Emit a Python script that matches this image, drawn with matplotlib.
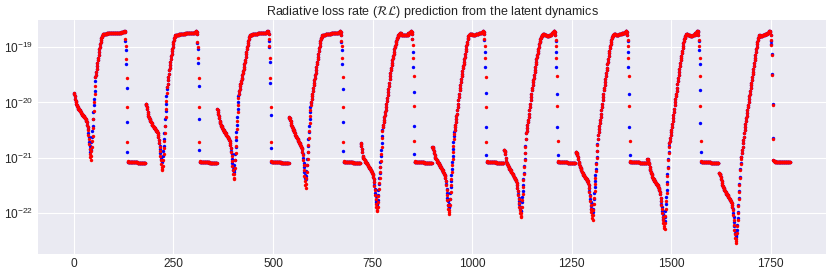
import numpy as np
import matplotlib
matplotlib.use("Agg")
import matplotlib.pyplot as plt

# ---------------------------------------------------------------
# Data: log10 of the radiative loss rate.
# Ten cycles of 180 samples each; every cycle is split into segments.
# ---------------------------------------------------------------
decay = [
    [-19.83,-19.85,-19.88,-19.93,-19.97,-20.00,-20.03,-20.05,-20.07,-20.09,-20.10,-20.11,-20.12,-20.13,-20.14,-20.15,-20.16,-20.18,-20.19,-20.20,-20.21,-20.22,-20.23,-20.24,-20.25,-20.26,-20.27,-20.28,-20.29,-20.30,-20.31,-20.33,-20.36,-20.40,-20.45],
    [-20.02,-20.03,-20.05,-20.08,-20.12,-20.17,-20.21,-20.24,-20.26,-20.28,-20.30,-20.32,-20.34,-20.35,-20.36,-20.38,-20.40,-20.41,-20.42,-20.43,-20.44,-20.45,-20.46,-20.47,-20.48,-20.49,-20.50,-20.51,-20.52,-20.54,-20.56,-20.59,-20.63,-20.68,-20.73],
    [-20.12,-20.14,-20.17,-20.21,-20.25,-20.29,-20.33,-20.36,-20.38,-20.40,-20.42,-20.43,-20.45,-20.46,-20.48,-20.49,-20.50,-20.52,-20.53,-20.54,-20.55,-20.56,-20.58,-20.59,-20.60,-20.61,-20.62,-20.63,-20.65,-20.66,-20.68,-20.70,-20.73,-20.77,-20.82],
    [-20.27,-20.28,-20.29,-20.31,-20.34,-20.37,-20.40,-20.43,-20.45,-20.47,-20.48,-20.49,-20.50,-20.52,-20.54,-20.56,-20.58,-20.60,-20.61,-20.63,-20.64,-20.65,-20.67,-20.68,-20.70,-20.71,-20.73,-20.74,-20.76,-20.77,-20.79,-20.80,-20.82,-20.84,-20.89],
    [-20.74,-20.76,-20.79,-20.84,-20.90,-20.96,-20.99,-21.01,-21.02,-21.03,-21.04,-21.05,-21.07,-21.08,-21.09,-21.10,-21.11,-21.12,-21.14,-21.15,-21.16,-21.17,-21.18,-21.19,-21.21,-21.22,-21.23,-21.24,-21.26,-21.27,-21.29,-21.31,-21.34,-21.38,-21.44],
    [-20.80,-20.81,-20.82,-20.84,-20.87,-20.91,-20.95,-20.98,-21.00,-21.02,-21.03,-21.04,-21.05,-21.07,-21.08,-21.09,-21.10,-21.12,-21.13,-21.14,-21.16,-21.17,-21.18,-21.19,-21.21,-21.22,-21.23,-21.25,-21.26,-21.28,-21.29,-21.31,-21.33,-21.37,-21.43],
    [-20.86,-20.86,-20.87,-20.90,-20.94,-21.00,-21.06,-21.09,-21.11,-21.12,-21.14,-21.15,-21.17,-21.18,-21.20,-21.21,-21.22,-21.23,-21.25,-21.26,-21.27,-21.28,-21.30,-21.31,-21.32,-21.34,-21.35,-21.36,-21.38,-21.39,-21.41,-21.43,-21.45,-21.49,-21.55],
    [-20.90,-20.90,-20.91,-20.92,-20.93,-20.95,-20.99,-21.03,-21.07,-21.10,-21.12,-21.15,-21.17,-21.19,-21.21,-21.23,-21.25,-21.26,-21.28,-21.29,-21.31,-21.32,-21.33,-21.34,-21.35,-21.36,-21.37,-21.38,-21.39,-21.40,-21.42,-21.43,-21.45,-21.49,-21.55],
    [-21.03,-21.03,-21.04,-21.06,-21.09,-21.12,-21.16,-21.20,-21.23,-21.26,-21.28,-21.30,-21.32,-21.34,-21.36,-21.38,-21.39,-21.41,-21.42,-21.43,-21.44,-21.45,-21.46,-21.47,-21.48,-21.49,-21.50,-21.52,-21.53,-21.55,-21.57,-21.59,-21.62,-21.66,-21.72],
    [-21.28,-21.28,-21.29,-21.30,-21.32,-21.35,-21.39,-21.43,-21.46,-21.49,-21.51,-21.53,-21.55,-21.57,-21.58,-21.60,-21.61,-21.62,-21.64,-21.65,-21.66,-21.67,-21.68,-21.70,-21.71,-21.72,-21.73,-21.75,-21.76,-21.77,-21.79,-21.80,-21.82,-21.85,-21.89],
]

dip_red = [
    [-20.50,-20.58,-20.67,-20.76,-20.85,-20.93,-20.99,-21.04,-20.96,-20.88,-20.80,-20.70,-20.60,-20.46,-20.30,-20.15,-19.99,-19.85,-19.70],
    [-20.80,-20.88,-20.96,-21.04,-21.11,-21.17,-21.21,-21.23,-21.15,-21.05,-20.94,-20.82,-20.70,-20.56,-20.42,-20.27,-20.12,-19.97,-19.83],
    [-20.89,-20.97,-21.06,-21.15,-21.23,-21.30,-21.36,-21.39,-21.30,-21.18,-21.05,-20.92,-20.78,-20.63,-20.48,-20.33,-20.18,-20.04,-19.92],
    [-20.95,-21.04,-21.13,-21.23,-21.33,-21.42,-21.50,-21.55,-21.47,-21.37,-21.26,-21.14,-21.02,-20.90,-20.77,-20.64,-20.51,-20.38,-20.25,-20.13,-20.05],
    [-21.51,-21.59,-21.67,-21.75,-21.83,-21.89,-21.94,-21.97,-21.90,-21.80,-21.69,-21.57,-21.46,-21.36,-21.26,-21.16,-21.06,-20.94,-20.80,-20.65,-20.52],
    [-21.50,-21.59,-21.68,-21.77,-21.85,-21.92,-21.98,-22.02,-21.95,-21.85,-21.74,-21.62,-21.50,-21.38,-21.26,-21.14,-21.02,-20.90,-20.78,-20.66,-20.57],
    [-21.61,-21.68,-21.75,-21.82,-21.89,-21.95,-22.00,-22.05,-22.08,-22.00,-21.89,-21.77,-21.65,-21.53,-21.41,-21.29,-21.17,-21.05,-20.92,-20.80,-20.67],
    [-21.62,-21.70,-21.78,-21.85,-21.92,-21.98,-22.04,-22.09,-22.12,-22.04,-21.94,-21.83,-21.72,-21.60,-21.48,-21.36,-21.24,-21.12,-21.00,-20.88,-20.77,-20.67],
    [-21.79,-21.86,-21.93,-22.00,-22.07,-22.13,-22.18,-22.23,-22.27,-22.29,-22.19,-22.06,-21.92,-21.78,-21.63,-21.48,-21.33,-21.18,-21.04,-20.91,-20.80],
    [-21.95,-22.03,-22.12,-22.21,-22.30,-22.38,-22.45,-22.51,-22.55,-22.47,-22.36,-22.24,-22.12,-22.00,-21.88,-21.75,-21.62,-21.49,-21.36,-21.23,-21.11,-21.02],
]

dip_blue = [
    [-20.48,-20.55,-20.63,-20.71,-20.79,-20.85,-20.89,-20.86,-20.80,-20.72,-20.62,-20.52,-20.42,-20.30,-20.18,-20.05,-19.93,-19.80,-19.62],
    [-20.78,-20.85,-20.92,-20.98,-21.03,-21.06,-21.07,-21.04,-20.97,-20.88,-20.78,-20.67,-20.55,-20.43,-20.30,-20.16,-20.02,-19.88,-19.76],
    [-20.87,-20.94,-21.02,-21.10,-21.17,-21.22,-21.25,-21.22,-21.14,-21.04,-20.93,-20.81,-20.68,-20.54,-20.40,-20.26,-20.12,-19.99,-19.88],
    [-20.93,-21.01,-21.09,-21.17,-21.25,-21.32,-21.37,-21.38,-21.33,-21.24,-21.13,-21.02,-20.90,-20.78,-20.66,-20.54,-20.42,-20.30,-20.18,-20.08,-20.01],
    [-21.49,-21.56,-21.63,-21.70,-21.76,-21.81,-21.84,-21.83,-21.77,-21.68,-21.58,-21.47,-21.37,-21.27,-21.17,-21.07,-20.97,-20.86,-20.74,-20.61,-20.50],
    [-21.48,-21.56,-21.64,-21.72,-21.79,-21.85,-21.89,-21.89,-21.83,-21.74,-21.64,-21.53,-21.42,-21.31,-21.20,-21.08,-20.96,-20.84,-20.72,-20.61,-20.54],
    [-21.60,-21.66,-21.72,-21.78,-21.84,-21.89,-21.93,-21.96,-21.96,-21.90,-21.81,-21.71,-21.60,-21.49,-21.38,-21.27,-21.15,-21.03,-20.91,-20.79,-20.66],
    [-21.61,-21.68,-21.75,-21.81,-21.87,-21.92,-21.96,-21.99,-21.99,-21.93,-21.84,-21.74,-21.64,-21.53,-21.42,-21.31,-21.20,-21.09,-20.98,-20.87,-20.76,-20.66],
    [-21.78,-21.84,-21.90,-21.96,-22.02,-22.07,-22.11,-22.14,-22.16,-22.15,-22.07,-21.96,-21.84,-21.71,-21.58,-21.44,-21.30,-21.16,-21.02,-20.89,-20.78],
    [-21.93,-22.00,-22.08,-22.16,-22.24,-22.31,-22.37,-22.42,-22.44,-22.40,-22.31,-22.21,-22.10,-21.98,-21.86,-21.73,-21.60,-21.47,-21.34,-21.21,-21.09,-20.99],
]

heating_line = [
    [-19.54,-19.50,-19.45,-19.40,-19.34,-19.29,-19.24,-19.19,-19.14,-19.09,-19.04,-18.99,-18.95,-18.91,-18.87,-18.84,-18.81,-18.79,-18.77],
    [-19.72,-19.66,-19.60,-19.54,-19.48,-19.42,-19.37,-19.32,-19.26,-19.21,-19.16,-19.12,-19.07,-19.03,-18.99,-18.95,-18.91,-18.87,-18.84,-18.82,-18.80,-18.78],
    [-19.84,-19.80,-19.75,-19.70,-19.67,-19.64,-19.61,-19.58,-19.55,-19.51,-19.47,-19.43,-19.39,-19.35,-19.31,-19.27,-19.23,-19.18,-19.13,-19.08,-19.04,-19.00,-18.96,-18.92,-18.88,-18.85,-18.82,-18.79],
    [-19.99,-19.94,-19.89,-19.84,-19.79,-19.74,-19.69,-19.64,-19.60,-19.55,-19.51,-19.46,-19.41,-19.36,-19.31,-19.27,-19.22,-19.17,-19.12,-19.07,-19.02,-18.97,-18.92,-18.89,-18.86,-18.83,-18.81,-18.79,-18.78],
    [-20.44,-20.40,-20.35,-20.31,-20.26,-20.22,-20.18,-20.13,-20.08,-20.03,-19.97,-19.92,-19.87,-19.81,-19.76,-19.70,-19.64,-19.58,-19.52,-19.47,-19.42,-19.37,-19.32,-19.28,-19.24,-19.20,-19.16,-19.12,-19.08,-19.04,-19.00,-18.97,-18.94,-18.91,-18.88,-18.86,-18.84,-18.82,-18.80,-18.78,-18.77,-18.76,-18.76],
    [-20.50,-20.45,-20.40,-20.35,-20.30,-20.25,-20.20,-20.14,-20.08,-20.02,-19.96,-19.90,-19.84,-19.78,-19.73,-19.68,-19.63,-19.58,-19.53,-19.48,-19.43,-19.38,-19.34,-19.30,-19.26,-19.21,-19.17,-19.12,-19.07,-19.03,-18.98,-18.94,-18.90,-18.86,-18.83,-18.80,-18.78,-18.77,-18.76,-18.76,-18.76],
    [-20.56,-20.51,-20.46,-20.41,-20.36,-20.31,-20.26,-20.20,-20.14,-20.08,-20.02,-19.96,-19.90,-19.84,-19.78,-19.73,-19.68,-19.63,-19.59,-19.55,-19.50,-19.45,-19.41,-19.36,-19.31,-19.27,-19.22,-19.18,-19.14,-19.10,-19.06,-19.03,-18.99,-18.95,-18.91,-18.88,-18.85,-18.83,-18.81,-18.79,-18.78,-18.77,-18.76],
    [-20.59,-20.54,-20.48,-20.42,-20.37,-20.31,-20.26,-20.20,-20.14,-20.08,-20.02,-19.96,-19.90,-19.84,-19.78,-19.73,-19.68,-19.63,-19.58,-19.52,-19.47,-19.42,-19.37,-19.31,-19.26,-19.21,-19.16,-19.11,-19.06,-19.02,-18.98,-18.94,-18.90,-18.87,-18.84,-18.82,-18.80,-18.78,-18.77,-18.76],
    [-20.74,-20.69,-20.64,-20.59,-20.54,-20.49,-20.44,-20.39,-20.34,-20.29,-20.23,-20.17,-20.11,-20.05,-19.99,-19.94,-19.89,-19.84,-19.79,-19.73,-19.67,-19.61,-19.56,-19.51,-19.45,-19.39,-19.34,-19.29,-19.24,-19.19,-19.15,-19.11,-19.06,-19.01,-18.97,-18.93,-18.89,-18.86,-18.83,-18.81,-18.79,-18.77,-18.76],
    [-20.98,-20.92,-20.86,-20.80,-20.74,-20.68,-20.62,-20.56,-20.50,-20.44,-20.39,-20.34,-20.29,-20.24,-20.19,-20.14,-20.09,-20.04,-19.99,-19.94,-19.89,-19.84,-19.79,-19.74,-19.69,-19.64,-19.59,-19.54,-19.49,-19.44,-19.39,-19.34,-19.29,-19.24,-19.19,-19.14,-19.09,-19.04,-18.99,-18.95,-18.91,-18.87,-18.84,-18.81,-18.79],
]

plateau = [
    [-18.76]*10 + [-18.75]*20 + [-18.74]*16 + [-18.73]*5 + [-18.72,-18.72,-18.71,-18.71,-18.73],
    [-18.77]*8 + [-18.76]*16 + [-18.75]*16 + [-18.74]*8 + [-18.72,-18.72,-18.71,-18.71,-18.72,-18.76],
    [-18.77]*6 + [-18.76]*14 + [-18.75]*14 + [-18.74]*8 + [-18.72,-18.72,-18.71,-18.71,-18.72,-18.76],
    [-18.77]*7 + [-18.76]*14 + [-18.75]*12 + [-18.74]*8 + [-18.72,-18.72,-18.71,-18.71,-18.72,-18.77],
    [-18.75]*3 + [-18.77]*5 + [-18.78]*8 + [-18.77]*5 + [-18.75]*4 + [-18.73,-18.72,-18.71,-18.71,-18.72,-18.76],
    [-18.76]*4 + [-18.77]*8 + [-18.76]*8 + [-18.75]*5 + [-18.74]*3 + [-18.72,-18.72,-18.71,-18.71,-18.72,-18.76],
    [-18.76]*3 + [-18.78]*6 + [-18.79]*6 + [-18.77]*6 + [-18.75]*4 + [-18.72,-18.71,-18.70,-18.70,-18.72,-18.78],
    [-18.76]*4 + [-18.77]*8 + [-18.76]*8 + [-18.75]*5 + [-18.74]*3 + [-18.72,-18.71,-18.70,-18.70,-18.72,-18.78],
    [-18.76]*3 + [-18.78]*6 + [-18.79]*6 + [-18.77]*6 + [-18.75]*4 + [-18.72,-18.71,-18.70,-18.70,-18.72,-18.78],
    [-18.77]*2 + [-18.79]*6 + [-18.78]*6 + [-18.76]*6 + [-18.74]*3 + [-18.72,-18.71,-18.70,-18.70,-18.72,-18.78],
]

drop_red = [
    [-18.85,-18.97,-19.21,-19.55,-20.09,-20.71,-21.06],
    [-18.90,-19.00,-19.20,-19.55,-20.08,-20.71,-21.06],
    [-18.85,-18.97,-19.20,-19.55,-20.08,-20.71,-21.06],
    [-18.88,-18.97,-19.20,-19.54,-20.08,-20.71,-21.06],
    [-18.85,-18.96,-19.19,-19.53,-20.07,-20.70,-21.06],
    [-18.85,-18.97,-19.19,-19.54,-20.08,-20.71,-21.06],
    [-18.87,-18.97,-19.19,-19.53,-20.07,-20.70,-21.06],
    [-18.87,-18.97,-19.19,-19.53,-20.07,-20.70,-21.06],
    [-18.87,-18.97,-19.19,-19.53,-20.07,-20.70,-21.06],
    [-18.87,-18.96,-19.14,-19.50,-20.05,-20.66,-21.05],
]

drop_blue = [
    [-18.88,-19.05,-19.31,-19.74,-20.36,-20.89,-21.07],
    [-18.92,-19.03,-19.29,-19.70,-20.30,-20.86,-21.07],
    [-18.88,-19.00,-19.26,-19.64,-20.23,-20.82,-21.07],
    [-18.90,-19.05,-19.31,-19.75,-20.35,-20.88,-21.07],
    [-18.86,-19.09,-19.35,-19.81,-20.43,-20.93,-21.07],
    [-18.87,-19.09,-19.36,-19.83,-20.45,-20.95,-21.07],
    [-18.89,-19.09,-19.36,-19.84,-20.45,-20.95,-21.07],
    [-18.89,-19.09,-19.36,-19.84,-20.45,-20.95,-21.07],
    [-18.89,-19.05,-19.31,-19.78,-20.38,-20.90,-21.07],
    [-18.88,-18.94,-19.12,-19.48,-20.03,-20.64,-21.04],
]

flat = [
    [-21.07]*4 + [-21.08]*20 + [-21.09]*20,
    [-21.07]*3 + [-21.08]*20 + [-21.09]*20,
    [-21.07]*3 + [-21.08]*20 + [-21.09]*20,
    [-21.07]*3 + [-21.08]*19 + [-21.09]*19,
    [-21.07]*3 + [-21.08]*20 + [-21.09]*20,
    [-21.07]*3 + [-21.08]*20 + [-21.09]*19,
    [-21.07]*3 + [-21.08]*20 + [-21.09]*20,
    [-21.07]*3 + [-21.08]*20 + [-21.09]*19,
    [-21.07]*3 + [-21.08]*20 + [-21.09]*20,
    [-21.06]*3 + [-21.07]*20 + [-21.08]*19,
]

x_ticks = [0, 250, 500, 750, 1000, 1250, 1500, 1750]
y_ticks = [1e-22, 1e-21, 1e-20, 1e-19]
title = r"Radiative loss rate ($\mathcal{RL}$) prediction from the latent dynamics"

# ---------------------------------------------------------------
red_log, blue_log = [], []
for k in range(len(decay)):
    red_log += decay[k] + dip_red[k] + heating_line[k] + plateau[k] + drop_red[k] + flat[k]
    blue_log += decay[k] + dip_blue[k] + heating_line[k] + plateau[k] + drop_blue[k] + flat[k]

red_vals = 10.0 ** np.array(red_log)
blue_vals = 10.0 ** np.array(blue_log)
x_red = np.arange(len(red_vals))
x_blue = np.arange(len(blue_vals))

plt.style.use("seaborn-v0_8-darkgrid")
plt.rcParams["font.family"] = ["Liberation Sans", "DejaVu Sans"]

fig, ax = plt.subplots(figsize=(8.30, 2.74), dpi=100)
fig.subplots_adjust(left=0.046, right=0.995, top=0.927, bottom=0.073)

ax.scatter(x_blue, blue_vals, s=6, c="blue", linewidths=0)
ax.scatter(x_red, red_vals, s=6, c="red", linewidths=0)
ax.set_yscale("log")
ax.set_xticks(x_ticks)
ax.set_yticks(y_ticks)
ax.minorticks_off()
ax.tick_params(axis="x", labelsize=8.6, length=0, colors=".15", pad=2.6)
ax.tick_params(axis="y", labelsize=8.6, length=0, colors=".15", pad=3.4)
ax.set_title(title, fontsize=9.0, color=".15", pad=2.5)

fig.savefig("out.png", dpi=100)
